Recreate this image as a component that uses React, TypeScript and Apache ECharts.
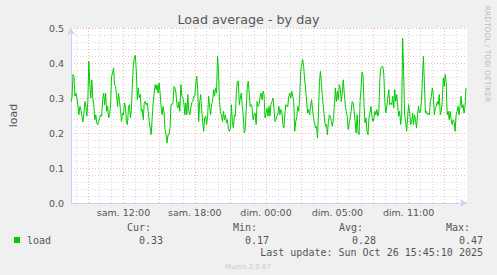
import React, { useEffect, useRef } from "react";
import * as echarts from "echarts";

// Samples every 5 minutes, starting sam. 07:35 (hours counted from sam. 00:00)
const START_HOUR = 7 + 35 / 60;
const STEP_HOURS = 5 / 60;

const LOAD: number[] = [
  0.290, 0.300, 0.367, 0.362, 0.305, 0.314, 0.300, 0.276, 0.252, 0.276,
  0.267, 0.248, 0.231, 0.257, 0.290, 0.276, 0.248, 0.290, 0.405, 0.338,
  0.300, 0.352, 0.300, 0.281, 0.238, 0.252, 0.229, 0.224, 0.233, 0.243,
  0.252, 0.248, 0.295, 0.314, 0.281, 0.314, 0.262, 0.276, 0.243, 0.252,
  0.281, 0.362, 0.371, 0.386, 0.338, 0.333, 0.310, 0.276, 0.314, 0.290,
  0.267, 0.233, 0.257, 0.252, 0.286, 0.276, 0.229,
  0.224, 0.271, 0.281, 0.243, 0.267, 0.338, 0.395, 0.414, 0.422, 0.376,
  0.295, 0.329, 0.300, 0.310, 0.262, 0.267, 0.238, 0.286, 0.290, 0.281,
  0.286, 0.262, 0.233, 0.214, 0.195, 0.243, 0.286, 0.314, 0.338, 0.324,
  0.338, 0.314, 0.343, 0.314, 0.276, 0.252, 0.276, 0.257, 0.210, 0.195,
  0.171, 0.195, 0.195, 0.214, 0.281, 0.281, 0.286, 0.333, 0.329, 0.314,
  0.281, 0.271, 0.290, 0.262, 0.338, 0.305, 0.300,
  0.286, 0.252, 0.286, 0.252, 0.310, 0.262, 0.252, 0.271, 0.286, 0.290,
  0.305, 0.305, 0.338, 0.362, 0.324, 0.233, 0.290, 0.310, 0.267, 0.233,
  0.205, 0.243, 0.248, 0.224, 0.248, 0.305, 0.276, 0.252, 0.281, 0.290,
  0.324, 0.305, 0.329, 0.314, 0.419, 0.376, 0.290, 0.257, 0.252, 0.233,
  0.262, 0.238, 0.252, 0.229, 0.238, 0.210, 0.205, 0.214, 0.281, 0.233,
  0.214, 0.252, 0.248, 0.314, 0.348, 0.348, 0.281,
  0.300, 0.314, 0.276, 0.248, 0.200, 0.210, 0.267, 0.329, 0.348, 0.314,
  0.276, 0.281, 0.271, 0.238, 0.252, 0.257, 0.224, 0.290, 0.276, 0.281,
  0.305, 0.314, 0.295, 0.319, 0.310, 0.243, 0.257, 0.271, 0.248, 0.276,
  0.248, 0.281, 0.290, 0.300, 0.271, 0.233, 0.238, 0.248, 0.257, 0.276,
  0.252, 0.267, 0.262, 0.224, 0.214, 0.252, 0.281, 0.276, 0.276, 0.305,
  0.314, 0.300, 0.319, 0.305, 0.290, 0.205, 0.233,
  0.243, 0.276, 0.262, 0.300, 0.376, 0.395, 0.410, 0.390, 0.352, 0.329,
  0.290, 0.257, 0.267, 0.252, 0.276, 0.295, 0.267, 0.243, 0.229, 0.214,
  0.219, 0.186, 0.262, 0.348, 0.376, 0.338, 0.300, 0.271, 0.243, 0.219,
  0.224, 0.195, 0.233, 0.252, 0.248, 0.233, 0.219, 0.238, 0.276, 0.329,
  0.290, 0.319, 0.295, 0.338, 0.324, 0.290, 0.314, 0.352, 0.314, 0.281,
  0.262, 0.248, 0.210, 0.229, 0.243, 0.262, 0.290,
  0.286, 0.262, 0.233, 0.200, 0.252, 0.200, 0.195, 0.290, 0.329, 0.374,
  0.362, 0.281, 0.229, 0.243, 0.205, 0.195, 0.243, 0.257, 0.276, 0.248,
  0.233, 0.243, 0.262, 0.252, 0.267, 0.248, 0.262, 0.357, 0.386, 0.390,
  0.390, 0.367, 0.290, 0.257, 0.276, 0.300, 0.324, 0.281, 0.286, 0.281,
  0.305, 0.271, 0.324, 0.290, 0.310, 0.276, 0.248, 0.262, 0.224, 0.252,
  0.471, 0.376, 0.252, 0.233, 0.205, 0.243, 0.281,
  0.262, 0.224, 0.229, 0.257, 0.224, 0.252, 0.238, 0.214, 0.252, 0.276,
  0.257, 0.262, 0.290, 0.357, 0.419, 0.338, 0.257, 0.262, 0.252, 0.257,
  0.252, 0.290, 0.305, 0.329, 0.310, 0.252, 0.271, 0.276, 0.290, 0.281,
  0.310, 0.252, 0.262, 0.290, 0.357, 0.333, 0.367, 0.343, 0.252, 0.262,
  0.238, 0.262, 0.238, 0.224, 0.238, 0.233, 0.205, 0.252, 0.262, 0.276,
  0.252, 0.276, 0.305, 0.271, 0.281, 0.257, 0.276, 0.329,
];

const MINOR_GRID_HOURS = [
  8, 9, 10, 11, 12, 13, 14, 15, 16, 17, 18, 19, 20, 21, 22, 23, 24,
  25, 26, 27, 28, 29, 30, 31, 32, 33, 34, 35, 36, 37, 38, 39, 40,
];
const MAJOR_GRID_HOURS = [9, 12, 15, 18, 21, 24, 27, 30, 33, 36, 39];
const X_LABEL_HOURS = [12, 18, 24, 30, 36];
const X_LABELS = ["sam. 12:00", "sam. 18:00", "dim. 00:00", "dim. 05:00", "dim. 11:00"];

const Y_MIN = 0;
const Y_MAX = 0.5;
const Y_STEP = 0.1;

const SERIES_NAME = "load";
const STAT_HEADERS = ["Cur:", "Min:", "Avg:", "Max:"];
const STAT_VALUES = ["0.33", "0.17", "0.28", "0.47"];
const LAST_UPDATE = "Last update: Sun Oct 26 15:45:10 2025";
const TITLE = "Load average - by day";
const WATERMARK = "RRDTOOL / TOBI OETIKER";
const FOOTER = "Munin 2.0.67";

const GREEN = "#00cc00";
const TEXT = "#555555";
const MAJOR_GRID = "#f3b4b4";
const MINOR_GRID = "#d9d9d9";
const AXIS = "#c9d1f4";

export default function App() {
  const ref = useRef<HTMLDivElement>(null);

  useEffect(() => {
    if (!ref.current) return;
    const chart = echarts.init(ref.current, undefined, { renderer: "svg" });
    const xMin = START_HOUR;
    const xMax = START_HOUR + LOAD.length * STEP_HOURS;
    const data = LOAD.map((v, i) => [START_HOUR + i * STEP_HOURS, v]);

    const statHeaderRight = [151, 257, 363, 470];
    const statValueRight = [163, 269, 376, 483];
    const mono = '10px "DejaVu Sans Mono"';

    const graphics: any[] = [
      {
        type: "text",
        x: 487.5,
        y: 54,
        rotation: -Math.PI / 2,
        style: { text: WATERMARK, fill: "#bdbdbd", font: '7.5px "DejaVu Sans"', textAlign: "center", textVerticalAlign: "middle" },
      },
      { type: "rect", shape: { x: 14, y: 237, width: 6, height: 6 }, style: { fill: GREEN } },
      { type: "text", x: 27, y: 240, style: { text: SERIES_NAME, fill: TEXT, font: mono, textAlign: "left", textVerticalAlign: "middle" } },
      { type: "text", x: 483, y: 252, style: { text: LAST_UPDATE, fill: TEXT, font: mono, textAlign: "right", textVerticalAlign: "middle" } },
      { type: "text", x: 248, y: 267, style: { text: FOOTER, fill: "#c8c8c8", font: '7px "DejaVu Sans"', textAlign: "center", textVerticalAlign: "middle" } },
    ];
    STAT_HEADERS.forEach((h, i) => {
      graphics.push({ type: "text", x: statHeaderRight[i], y: 227, style: { text: h, fill: TEXT, font: mono, textAlign: "right", textVerticalAlign: "middle" } });
      graphics.push({ type: "text", x: statValueRight[i], y: 240, style: { text: STAT_VALUES[i], fill: TEXT, font: mono, textAlign: "right", textVerticalAlign: "middle" } });
    });

    chart.setOption({
      animation: false,
      backgroundColor: "#f0f0f0",
      title: {
        text: TITLE,
        left: "center",
        top: 8,
        textStyle: { fontFamily: "DejaVu Sans", fontSize: 12.7, fontWeight: "normal", color: TEXT },
      },
      grid: { left: 67, top: 28, width: 400, height: 175, show: true, backgroundColor: "#ffffff", borderWidth: 0 },
      xAxis: [
        {
          type: "value",
          min: xMin,
          max: xMax,
          position: "bottom",
          axisLine: { show: true, lineStyle: { color: AXIS, width: 1 }, symbol: ["none", "arrow"], symbolSize: [6, 7] },
          axisTick: { show: false, customValues: MINOR_GRID_HOURS },
          axisLabel: { show: false },
          splitLine: { show: true, lineStyle: { color: MINOR_GRID, type: [1, 2], width: 1 } },
        },
        {
          type: "value",
          min: xMin,
          max: xMax,
          position: "bottom",
          axisLine: { show: false },
          axisTick: { show: false, customValues: MAJOR_GRID_HOURS },
          axisLabel: {
            show: true,
            customValues: X_LABEL_HOURS,
            formatter: (v: number) => {
              const k = X_LABEL_HOURS.findIndex((h) => Math.abs(h - v) < 1e-6);
              return k >= 0 ? X_LABELS[k] : "";
            },
            color: TEXT,
            fontFamily: "DejaVu Sans",
            fontSize: 9.5,
            margin: 4,
          },
          splitLine: { show: true, lineStyle: { color: MAJOR_GRID, type: [1, 2], width: 1 } },
        },
      ],
      yAxis: {
        type: "value",
        min: Y_MIN,
        max: Y_MAX,
        interval: Y_STEP,
        name: SERIES_NAME,
        nameLocation: "middle",
        nameGap: 52,
        nameTextStyle: { color: TEXT, fontFamily: "DejaVu Sans", fontSize: 11 },
        axisLine: { show: true, lineStyle: { color: AXIS, width: 1 }, symbol: ["none", "arrow"], symbolSize: [6, 7] },
        axisTick: { show: false },
        axisLabel: {
          formatter: (v: number) => v.toFixed(1),
          color: TEXT,
          fontFamily: "DejaVu Sans",
          fontSize: 9.5,
          margin: 7,
        },
        splitLine: { show: true, lineStyle: { color: MAJOR_GRID, type: [1, 2], width: 1 } },
        minorTick: { show: false, splitNumber: 5 },
        minorSplitLine: { show: true, lineStyle: { color: MINOR_GRID, type: [1, 2], width: 1 } },
      },
      series: [
        {
          name: SERIES_NAME,
          type: "line",
          xAxisIndex: 0,
          data,
          showSymbol: false,
          symbol: "none",
          lineStyle: { color: GREEN, width: 1 },
          z: 5,
        },
      ],
      graphic: graphics,
    });

    return () => chart.dispose();
  }, []);

  return (
    <div
      ref={ref}
      style={{ position: "fixed", left: 0, top: 0, width: 497, height: 275, background: "#f0f0f0" }}
    />
  );
}
